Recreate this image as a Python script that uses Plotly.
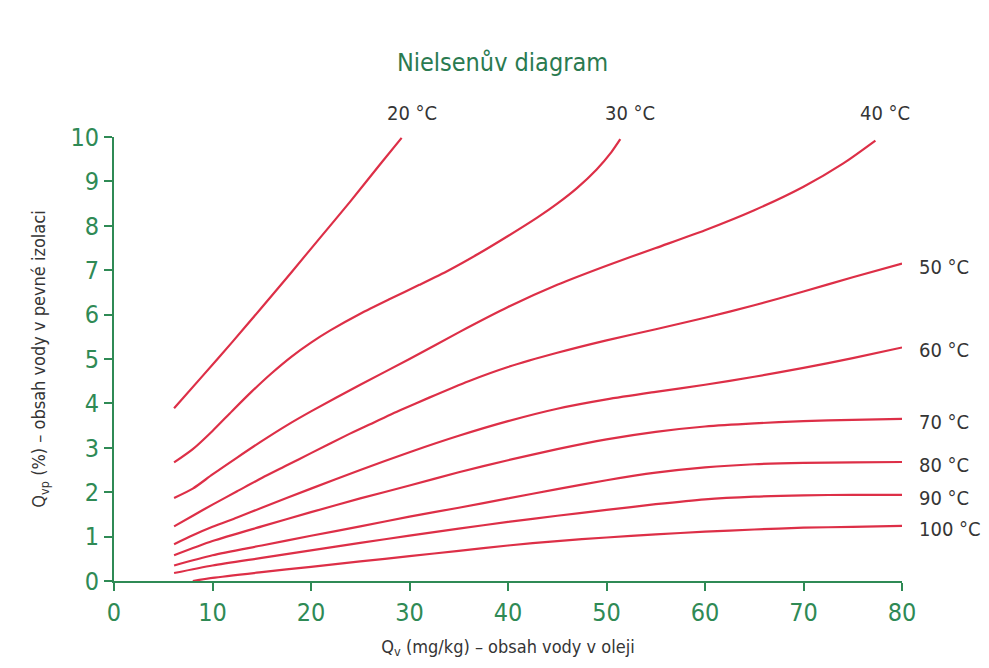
import plotly.graph_objects as go

# ---- data ----
temps = ["20 °C", "30 °C", "40 °C", "50 °C", "60 °C", "70 °C", "80 °C", "90 °C", "100 °C"]

x20 = [6.1, 9, 12, 15, 18, 21, 24, 27, 29.2]
y20 = [3.89, 4.62, 5.38, 6.16, 6.95, 7.75, 8.55, 9.38, 9.98]

x30 = [6.1, 8, 10, 12, 14, 16, 18, 20, 22, 25, 28, 31, 34, 37, 40, 43, 45, 47, 49, 50.5, 51.4]
y30 = [2.67, 2.97, 3.38, 3.83, 4.27, 4.68, 5.05, 5.37, 5.65, 6.02, 6.35, 6.67, 7.0, 7.37, 7.77, 8.19, 8.5, 8.85, 9.27, 9.66, 9.95]

x40 = [6.1, 8, 10, 12.5, 15, 17.5, 20, 25, 30, 35, 40, 45, 50, 55, 60, 65, 70, 74, 77.3]
y40 = [1.87, 2.08, 2.4, 2.78, 3.15, 3.5, 3.82, 4.42, 5.0, 5.6, 6.17, 6.67, 7.1, 7.5, 7.9, 8.35, 8.88, 9.4, 9.92]

x50 = [6.1, 8, 10, 12.5, 15, 17.5, 20, 23.6, 26, 29.1, 32, 36, 40, 45, 50, 55, 60, 65, 70, 75, 80]
y50 = [1.23, 1.47, 1.72, 2.02, 2.32, 2.6, 2.88, 3.28, 3.53, 3.85, 4.13, 4.5, 4.82, 5.14, 5.42, 5.67, 5.93, 6.21, 6.52, 6.84, 7.15]

x60 = [6.1, 8, 10, 12.5, 15, 20, 25, 30, 35, 40, 45, 50, 55, 60, 65, 70, 75, 80]
y60 = [0.83, 1.03, 1.22, 1.43, 1.65, 2.08, 2.5, 2.9, 3.27, 3.6, 3.88, 4.09, 4.26, 4.42, 4.6, 4.8, 5.02, 5.26]

x70 = [6.1, 10, 15, 20, 25, 30, 35, 40, 45, 50, 55, 60, 65, 70, 75, 80]
y70 = [0.58, 0.9, 1.23, 1.55, 1.86, 2.15, 2.45, 2.72, 2.97, 3.19, 3.36, 3.48, 3.55, 3.6, 3.63, 3.65]

x80 = [6.1, 10, 15, 20, 25, 30, 35, 40, 45, 50, 55, 60, 65, 70, 75, 80]
y80 = [0.35, 0.58, 0.8, 1.02, 1.23, 1.45, 1.65, 1.86, 2.07, 2.27, 2.44, 2.56, 2.63, 2.66, 2.67, 2.68]

x90 = [6.1, 10, 15, 20, 25, 30, 35, 40, 45, 50, 55, 60, 65, 70, 75, 80]
y90 = [0.18, 0.35, 0.52, 0.69, 0.86, 1.02, 1.18, 1.33, 1.47, 1.6, 1.73, 1.84, 1.9, 1.93, 1.94, 1.94]

x100 = [8, 10, 15, 20, 25, 30, 35, 40, 45, 50, 55, 60, 65, 70, 75, 80]
y100 = [0.0, 0.07, 0.2, 0.32, 0.44, 0.56, 0.68, 0.8, 0.9, 0.98, 1.05, 1.11, 1.16, 1.2, 1.22, 1.24]

series_x = [x20, x30, x40, x50, x60, x70, x80, x90, x100]
series_y = [y20, y30, y40, y50, y60, y70, y80, y90, y100]

x_ticks = [0, 10, 20, 30, 40, 50, 60, 70, 80]
y_ticks = [0, 1, 2, 3, 4, 5, 6, 7, 8, 9, 10]

# ---- styling ----
RED = "#dd2f47"
GREEN = "#2f8a55"
DARK = "#353535"
FONT = "Liberation Sans Narrow, DejaVu Sans Condensed, Arial Narrow, sans-serif"

fig = go.Figure()
for name, xs, ys in zip(temps, series_x, series_y):
    fig.add_trace(go.Scatter(x=xs, y=ys, mode="lines", name=name,
                             line=dict(color=RED, width=2.2, shape="spline", smoothing=0.7),
                             showlegend=False, hoverinfo="skip"))

annotations = []
# labels above the plot for curves ending at the top
for name, xs, ys in zip(temps[:3], series_x[:3], series_y[:3]):
    annotations.append(dict(x=xs[-1], y=10, xref="x", yref="y", text=name,
                            showarrow=False, yshift=24, xshift=10, xanchor="center", yanchor="middle",
                            font=dict(family=FONT, size=20, color=DARK)))
# labels to the right for curves ending at x=80
for name, xs, ys in zip(temps[3:], series_x[3:], series_y[3:]):
    annotations.append(dict(x=xs[-1], y=ys[-1], xref="x", yref="y", text=name,
                            showarrow=False, xanchor="left", yanchor="middle",
                            xshift=15, yshift=-3,
                            font=dict(family=FONT, size=20, color=DARK)))

fig.update_layout(
    width=989, height=668,
    margin=dict(l=106, r=95, t=129, b=95),
    paper_bgcolor="white", plot_bgcolor="white",
    title=dict(text="Nielsenův diagram", x=0.5, xanchor="center", y=0.919, yanchor="middle",
               font=dict(family=FONT, size=25, color="#2a7a50")),
    annotations=annotations,
    xaxis=dict(range=[0, 80], tickvals=x_ticks, showgrid=False, zeroline=False,
               showline=True, linecolor=GREEN, linewidth=2,
               ticks="outside", ticklen=8, tickwidth=1.5, tickcolor=GREEN,
               tickfont=dict(family=FONT, size=25, color=GREEN),
               title=dict(text="Q<sub>v</sub> (mg/kg) – obsah vody v oleji", standoff=14,
                          font=dict(family=FONT, size=18, color=DARK))),
    yaxis=dict(range=[0, 10], tickvals=y_ticks, showgrid=False, zeroline=False,
               showline=True, linecolor=GREEN, linewidth=2,
               ticks="outside", ticklen=8, tickwidth=1.5, tickcolor=GREEN,
               tickfont=dict(family=FONT, size=25, color=GREEN),
               title=dict(text="Q<sub>vp</sub> (%) – obsah vody v pevné izolaci", standoff=20,
                          font=dict(family=FONT, size=18, color=DARK))),
)

fig.write_html("out.html")
